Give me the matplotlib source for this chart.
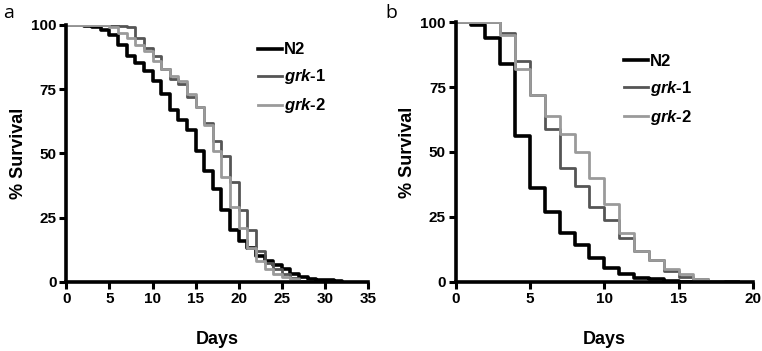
import matplotlib
matplotlib.use('Agg')
import matplotlib.pyplot as plt

plt.rcParams['font.family'] = ['Liberation Sans', 'DejaVu Sans']
plt.rcParams['mathtext.fontset'] = 'custom'
plt.rcParams['mathtext.it'] = 'Liberation Sans:italic:bold'
plt.rcParams['mathtext.rm'] = 'Liberation Sans:bold'

# panel a: survival (%) at the start of each day
days_a = list(range(0, 33))
n2_a = [100, 100, 99.5, 99, 98, 96, 92, 88, 85, 82, 78, 73, 67, 63, 59, 51, 43,
        36, 28, 20, 16, 13, 10, 8, 6.5, 5, 3, 2, 1, 0.8, 0.8, 0.5, 0]
grk1_a = [100, 100, 100, 100, 100, 100, 99.5, 99, 95, 91, 88, 83, 79, 77, 72, 68,
          62, 55, 49, 39, 28, 20, 12, 7.5, 5, 3, 1.5, 0.5, 0, 0, 0, 0, 0]
grk2_a = [100, 100, 100, 100, 100, 99, 97, 95, 92, 90, 86, 83, 80, 78, 73, 68,
          61, 51, 41, 29, 21, 13, 8, 5, 3, 2, 1, 0, 0, 0, 0, 0, 0]

# panel b
days_b = list(range(0, 20))
n2_b = [100, 99, 94, 84, 56, 36, 27, 19, 14, 9, 5.5, 3, 1.5, 1, 0.5, 0, 0, 0, 0, 0]
grk1_b = [100, 100, 100, 96, 85, 72, 59, 44, 37, 29, 24, 17, 12, 8.5, 4, 2, 1, 0.3,
          0.3, 0]
grk2_b = [100, 100, 100, 95, 82, 72, 64, 57, 50, 40, 30, 19, 12, 8.5, 5, 3, 1, 0.5,
          0, 0]

labels = ['N2', r'$grk$-1', r'$grk$-2']
colors = ['black', '#555555', '#9a9a9a']
widths = [2.6, 2.0, 2.0]

fig = plt.figure(figsize=(7.62, 3.51), dpi=100)
ax_a = fig.add_axes([0.087, 0.197, 0.396, 0.732])
ax_b = fig.add_axes([0.598, 0.197, 0.390, 0.740])

panels = [
    (ax_a, days_a, [n2_a, grk1_a, grk2_a], 35, (0.585, 0.99)),
    (ax_b, days_b, [n2_b, grk1_b, grk2_b], 20, (0.515, 0.935)),
]

for ax, days, series, xmax, legpos in panels:
    for vals, lab, c, lw in zip(series, labels, colors, widths):
        ax.step(days, vals, where='post', color=c, lw=lw, label=lab, zorder=3)
    ax.set_xlim(0, xmax)
    ax.set_ylim(0, 100)
    ax.set_xticks(range(0, xmax + 1, 5))
    ax.set_yticks([0, 25, 50, 75, 100])
    for s in ['top', 'right']:
        ax.spines[s].set_visible(False)
    for s in ['left', 'bottom']:
        ax.spines[s].set_linewidth(2.6)
        ax.spines[s].set_zorder(4)
    ax.tick_params(width=2.2, length=5, labelsize=11, pad=2)
    for t in ax.get_xticklabels() + ax.get_yticklabels():
        t.set_fontweight('bold')
    ax.set_xlabel('Days', fontsize=13, fontweight='bold', labelpad=18)
    ax.set_ylabel('% Survival', fontsize=13, fontweight='bold', labelpad=3)
    ax.legend(loc='upper left', bbox_to_anchor=legpos, frameon=False,
              handlelength=1.45, handletextpad=0.1, labelspacing=0.6,
              prop={'size': 12, 'weight': 'bold'})

fig.text(0.004, 0.962, 'a', fontsize=14, family=['Open Sans', 'DejaVu Sans'],
         ha='left', va='center')
fig.text(0.506, 0.962, 'b', fontsize=14, family=['Open Sans', 'DejaVu Sans'],
         ha='left', va='center')

fig.savefig('out.png', dpi=100)
